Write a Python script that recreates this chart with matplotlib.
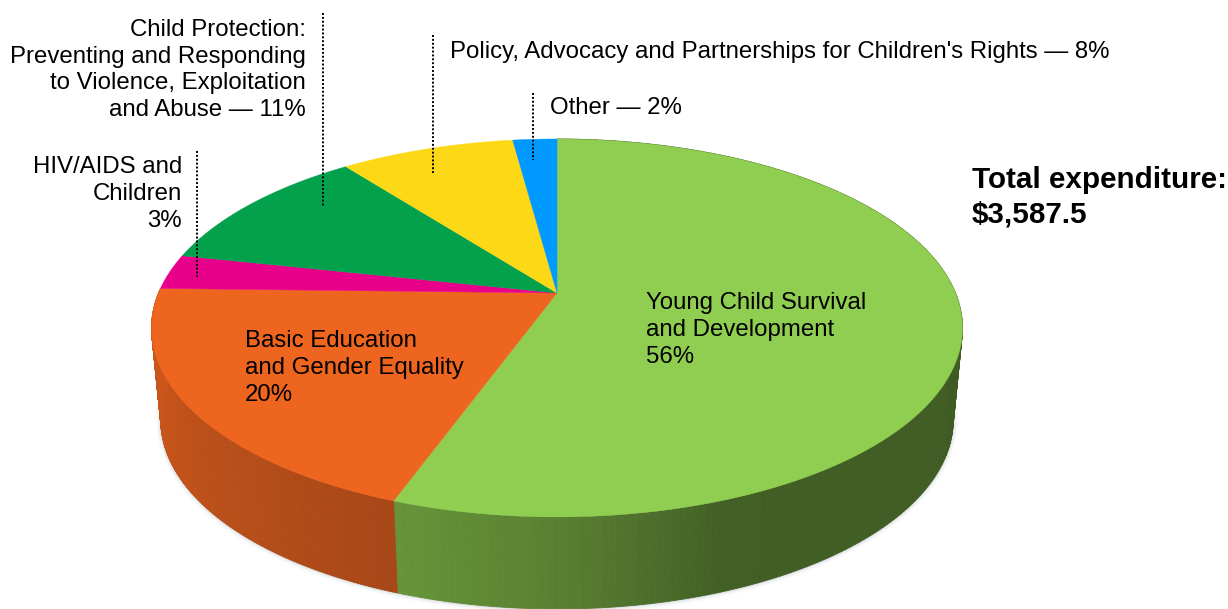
import numpy as np
import matplotlib
matplotlib.use("Agg")
from matplotlib import pyplot as plt
from matplotlib.collections import PolyCollection

plt.rcParams['font.family'] = ['Liberation Sans', 'DejaVu Sans']

# shares (labels show them rounded)
categories = ["Young Child Survival and Development", "Basic Education and Gender Equality",
              "HIV/AIDS and Children", "Child Protection", "Policy, Advocacy and Partnerships", "Other"]
values = [55.5, 19.9, 3.0, 11.2, 8.3, 2.1]
colors = ["#8fce50", "#ee6520", "#e9008a", "#03a14c", "#fcd817", "#0099ff"]

# pie geometry in pixels
cx, cy = 557, 293
rx, ry, k = 398.5, 182.5, 0.185
depth, base_scale = 92, 0.977


# circle seen in perspective: the centre goes to the apex, the rim to an ellipse
def rim(theta):
    x, y = np.sin(theta), np.cos(theta)
    w = 1 + k * y
    return rx * x / w, ry * y / w


# wall colour depends on how far round the rim we are
def wall_color(base, t):
    rgb = np.array(matplotlib.colors.to_rgb(base))
    return tuple(rgb * t)


fig = plt.figure(figsize=(12.28, 6.09), dpi=100)
ax = fig.add_axes([0, 0, 1, 1])
ax.set_xlim(0, 1228)
ax.set_ylim(609, 0)
ax.axis("off")

cum = np.cumsum([0] + values) / sum(values) * 2 * np.pi

# soft shadow round the bottom edge
th = np.linspace(0, 2 * np.pi, 400)
X, Y = rim(th)
for lw, a in [(7, 0.03), (4.5, 0.05), (2.5, 0.08), (1.2, 0.12)]:
    ax.plot(cx + X * base_scale, cy - Y + depth, color="#50606e", lw=lw, alpha=a, zorder=1)

# walls, only the two front slices show
wall_stops = {0: ([0.0, 0.1, 0.2, 1.0], [0.72, 0.62, 0.46, 0.42]),
              1: ([0.0, 0.3, 0.6, 1.0], [0.70, 0.76, 0.82, 0.86])}
for i, (pos, shade) in wall_stops.items():
    th = np.linspace(cum[i], cum[i + 1], 240)
    X, Y = rim(th)
    quads, cols = [], []
    for j in range(len(th) - 1):
        quads.append([(cx + X[j], cy - Y[j]), (cx + X[j + 1], cy - Y[j + 1]),
                      (cx + X[j + 1] * base_scale, cy - Y[j + 1] + depth),
                      (cx + X[j] * base_scale, cy - Y[j] + depth)])
        t = j / (len(th) - 2)
        if i == 0:
            t = 1 - t  # light end is at the orange boundary
        cols.append(wall_color(colors[i], np.interp(t, pos, shade)))
    ax.add_collection(PolyCollection(quads, facecolors=cols, edgecolors=cols, linewidths=0.6, zorder=2))

# top face
for i in range(len(values)):
    th = np.linspace(cum[i], cum[i + 1], 200)
    X, Y = rim(th)
    ax.fill(np.r_[cx, cx + X], np.r_[cy, cy - Y], color=colors[i], lw=0.3, zorder=3)

# leaders
leaders = [(323, 13, 206), (433, 35, 173), (533, 93, 160), (197, 151, 277)]
for x, y0, y1 in leaders:
    ax.plot([x, x], [y0, y1], color="black", lw=1.4, ls=(0, (1, 1)), zorder=4)

fs = 17.3
ax.text(306, 70, "Child Protection:\nPreventing and Responding\nto Violence, Exploitation\nand Abuse — 11%",
        ha="right", va="center", ma="right", fontsize=fs, linespacing=1.28, zorder=5)
ax.text(182, 194, "HIV/AIDS and\nChildren\n3%", ha="right", va="center", ma="right",
        fontsize=fs, linespacing=1.28, zorder=5)
ax.text(450, 52, "Policy, Advocacy and Partnerships for Children's Rights — 8%",
        va="center", fontsize=fs, zorder=5)
ax.text(550, 108, "Other — 2%", va="center", fontsize=fs, zorder=5)
ax.text(646, 330, "Young Child Survival\nand Development\n56%", va="center", fontsize=fs,
        linespacing=1.31, zorder=5)
ax.text(245, 368, "Basic Education\nand Gender Equality\n20%", va="center", fontsize=fs,
        linespacing=1.28, zorder=5)
ax.text(972, 197, "Total expenditure:\n$3,587.5", va="center", fontsize=21.3, fontweight="bold",
        linespacing=1.31, zorder=5)

fig.savefig("out.png", dpi=100)
